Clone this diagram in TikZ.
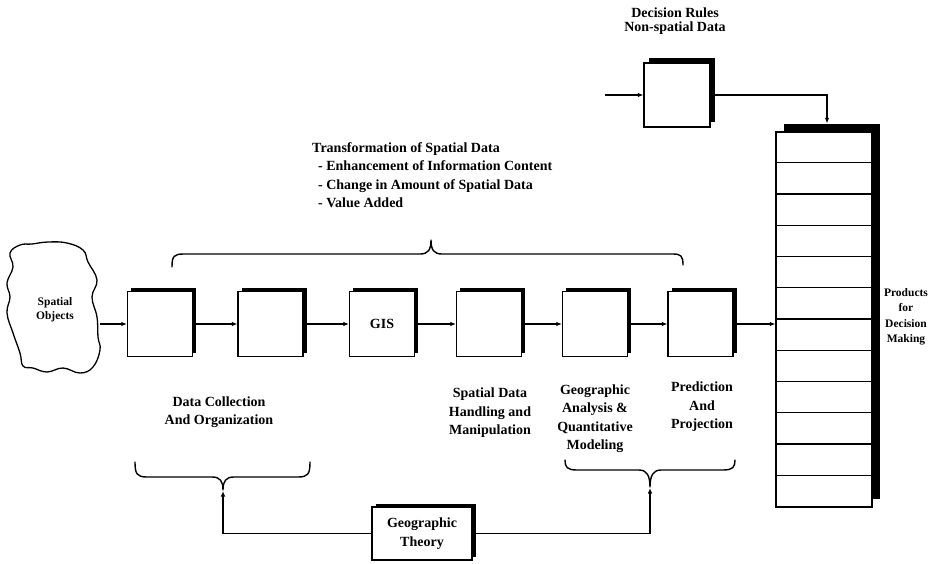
\documentclass[tikz,border=0pt]{standalone}
\usepackage{fontspec}
\setmainfont{Liberation Serif}
\usetikzlibrary{arrows.meta,shadows,calc}
\begin{document}
\begin{tikzpicture}[x=1pt,y=-1pt,
 sbox/.style={draw, fill=white, line width=1.2pt, inner sep=0pt,
   drop shadow={shadow xshift=#1, shadow yshift=#1, fill=black, opacity=1}},
 sbox/.default=3.5pt,
 mbox/.style={sbox, minimum width=65pt, minimum height=65pt},
 arr/.style={line width=1.1pt, -{Latex[length=5.5pt,width=4.5pt]}},
 lbl/.style={align=center, font=\fontsize{14}{18.5}\selectfont\bfseries, inner sep=0pt},
 brace/.style={line width=1.4pt, line cap=round, line join=round}]
\useasboundingbox (0,0) rectangle (930,563);
\fill[white] (0,0) rectangle (930,563);
\clip (0,0) rectangle (930,563);

% spatial objects blob
\draw[line width=1.3pt] plot[smooth cycle, tension=0.7] coordinates {
 (20,245) (32,244) (48,242) (67,243) (83,250) (88,262) (97,280) (92,297)
 (97,317) (98,337) (100,350) (93,367) (80,373) (63,368) (47,372) (33,368)
 (23,366) (20,353) (13,333) (7,313) (10,297) (7,283) (13,267) (10,253)};
\node[lbl, font=\fontsize{11.5}{14}\selectfont\bfseries] (obj) at (55,310) {Spatial\\Objects};
\coordinate (objR) at (100,324);

% main row
\node[mbox] (b1) at (160,324) {};
\node[mbox] (b2) at (270.5,324) {};
\node[mbox, lbl] (gis) at (382,324) {GIS};
\node[mbox] (b4) at (489,324) {};
\node[mbox] (b5) at (595,324) {};
\node[mbox] (b6) at (700.5,324) {};

\draw[arr] (objR) -- (b1.west);
\draw[arr] (b1.east) -- (b2.west);
\draw[arr] (b2.east) -- (gis.west);
\draw[arr] (gis.east) -- (b4.west);
\draw[arr] (b4.east) -- (b5.west);
\draw[arr] (b5.east) -- (b6.west);

% stack of products
\node[sbox=8pt, minimum width=96pt, minimum height=375pt] (stack) at (824,319.5) {};
\foreach \i in {1,...,11}
  \draw[line width=1.2pt] ($(stack.north west)+(0,31.25*\i)$) -- ($(stack.north east)+(0,31.25*\i)$);
\draw[arr] (b6.east) -- (b6.east -| stack.west);
\node[lbl, font=\fontsize{11.5}{15.5}\selectfont\bfseries] (prod) at (906,317) {Products\\for\\Decision\\Making};

% decision rules
\node[sbox=5pt, minimum width=66pt, minimum height=64pt] (dec) at (677,95) {};
\node[lbl, font=\fontsize{14}{14.5}\selectfont\bfseries] (declbl) at (675,21) {Decision Rules\\Non-spatial Data};
\coordinate (decin) at (605,95);
\draw[arr] (decin) -- (dec.west);
\draw[arr] (dec.east) -| ([xshift=3pt,yshift=8pt]stack.north);

% transformation text and top brace
\node[lbl, align=left, anchor=north west] (trans) at (312,142)
 {Transformation of Spatial Data\\
  \hspace*{6pt}- Enhancement of Information Content\\
  \hspace*{6pt}- Change in Amount of Spatial Data\\
  \hspace*{6pt}- Value Added};
\draw[brace] (172,267) .. controls (172,256) and (174,254) .. (184,254) -- (420,254)
  .. controls (428,254) and (431,250) .. (431,240)
  .. controls (431,250) and (434,254) .. (442,254) -- (673,254)
  .. controls (681,254) and (683,256) .. (683,265);

% bottom labels
\node[lbl] (dcol) at (219,412) {Data Collection\\And Organization};
\node[lbl] (sdh) at (490,413) {Spatial Data\\Handling and\\Manipulation};
\node[lbl] (gaq) at (595,418.5) {Geographic\\Analysis \&\\Quantitative\\Modeling};
\node[lbl] (pap) at (702,407) {Prediction\\And\\Projection};

% bottom braces
\draw[brace] (135,462) .. controls (135,474) and (137,477) .. (147,477) -- (212,477)
  .. controls (220,477) and (223,481) .. (223,490)
  .. controls (223,481) and (226,477) .. (234,477) -- (298,477)
  .. controls (308,477) and (310,474) .. (310,462);
\draw[brace] (565,460) .. controls (565,467) and (567,470) .. (577,470) -- (639,470)
  .. controls (647,470) and (650,476) .. (650,487)
  .. controls (650,476) and (653,470) .. (661,470) -- (723,470)
  .. controls (733,470) and (735,467) .. (735,460);

% geographic theory
\node[sbox, minimum width=100pt, minimum height=53pt, lbl] (geo) at (422,533.5) {Geographic\\Theory};
\coordinate (lt) at (223,491);
\coordinate (rt) at (650,488);
\draw[arr] (geo.west) -| (lt);
\draw[arr] (geo.east) -| (rt);
\end{tikzpicture}
\end{document}
